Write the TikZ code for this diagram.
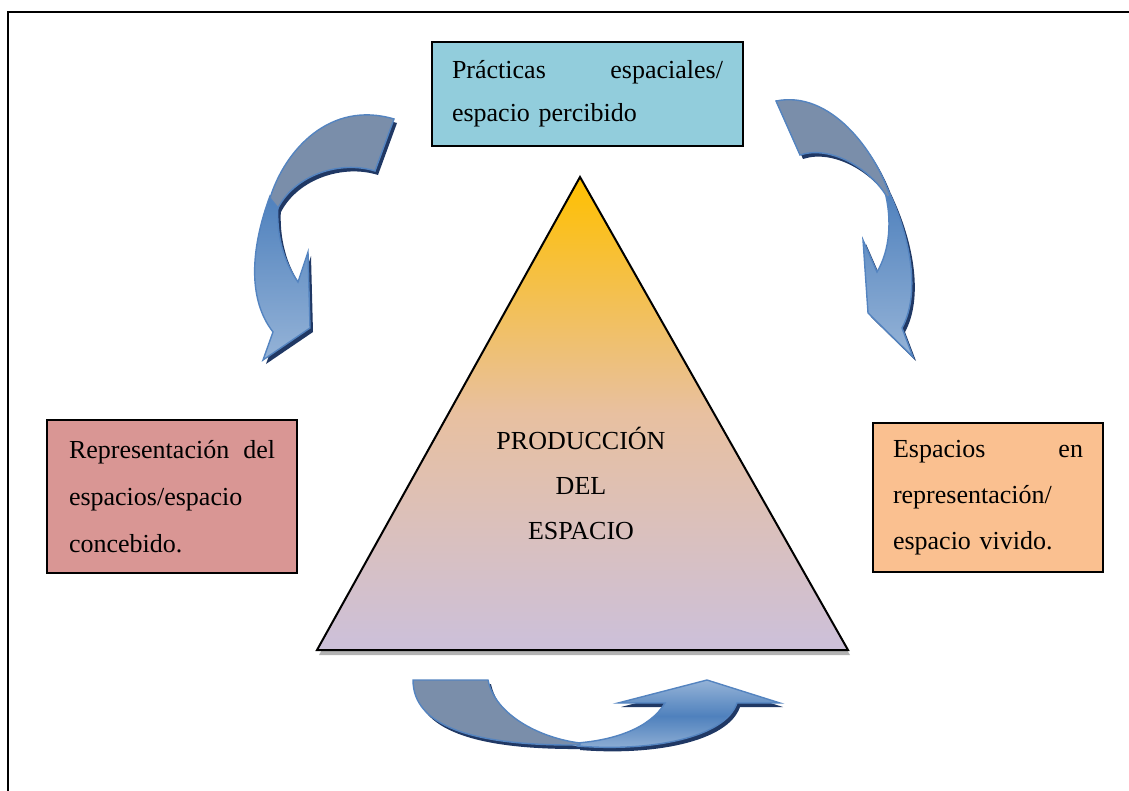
\documentclass[tikz,border=0pt]{standalone}
\usepackage{fontspec}
\setmainfont{Liberation Serif}
\usepackage{tikz}
\definecolor{percibido}{RGB}{146, 205, 220}
\definecolor{concebido}{RGB}{217, 150, 148}
\definecolor{vivido}{RGB}{250, 192, 144}
\definecolor{arrowtop}{RGB}{79, 129, 189}
\definecolor{arrowlow}{RGB}{149, 179, 215}
\definecolor{arrowline}{RGB}{84, 132, 192}
\definecolor{arrowback}{RGB}{122, 142, 170}
\definecolor{arrowdark}{RGB}{32, 56, 100}
\definecolor{tritop}{RGB}{255, 192, 0}
\definecolor{trimid}{RGB}{232, 192, 160}
\definecolor{tribot}{RGB}{204, 192, 218}

% outlines of the three curved arrows
\newcommand{\leftback}{(394,119) .. controls (330,100) and (285,150) .. (270,198) -- (278,208) .. controls (295,175) and (340,160) .. (375,171) -- cycle}
\newcommand{\leftbody}{(270,196) .. controls (250,250) and (248,300) .. (273,332) -- (263,360) -- (310,328) -- (308,252) -- (298,282) .. controls (284,262) and (276,235) .. (278,205) -- cycle}
\newcommand{\rightback}{(776,101) .. controls (830,90) and (875,150) .. (890,196) -- (887,197) .. controls (870,168) and (830,145) .. (800,155) -- cycle}
\newcommand{\rightbody}{(888,190) .. controls (912,240) and (920,295) .. (902,328) -- (913,357) -- (868,313) -- (863,240) -- (877,272) .. controls (890,250) and (892,220) .. (885,192) -- cycle}
\newcommand{\lowback}{(413,680) -- (488,680) .. controls (495,715) and (540,738) .. (580,743) -- (580,745) .. controls (470,746) and (413,725) .. (413,680) -- cycle}
\newcommand{\lowbody}{(577,746) .. controls (650,752) and (725,738) .. (737,703) -- (780,703) -- (707,680) -- (618,703) -- (665,703) .. controls (650,728) and (615,740) .. (577,743) -- cycle}

\begin{document}
\begin{tikzpicture}[x=0.5pt, y=-0.5pt,
  box/.style={draw, line width=0.6pt, align=left, inner ysep=0pt},
  bodyfill/.style={draw=arrowline, line width=0.7pt, top color=arrowtop, bottom color=arrowlow},
  bodymid/.style={draw=arrowline, line width=0.7pt, top color=arrowlow, bottom color=arrowlow, middle color=arrowtop},
  backfill/.style={draw=arrowline, line width=0.7pt, fill=arrowback},
  shadowfill/.style={fill=arrowdark, shift={(3,4)}}]

\useasboundingbox (0,0) rectangle (1129,791);
\draw[line width=0.8pt] (8,791) -- (8,12) -- (1129,12);

% triangle
\coordinate (apex) at (580,177);
\coordinate (baseR) at (848,650);
\coordinate (baseL) at (317,650);
\fill[black!30] ([shift={(2,5)}]apex) -- ([shift={(2,5)}]baseR) -- ([shift={(2,5)}]baseL) -- cycle;
\draw[line width=1pt, top color=tritop, bottom color=tribot, middle color=trimid] (apex) -- (baseR) -- (baseL) -- cycle;
\node[align=center, font=\fontsize{13}{22.5}\selectfont] (produccion) at (581,483) {PRODUCCIÓN\\DEL\\ESPACIO};

% boxes
\node[box, fill=percibido, text width=135.5pt, inner xsep=10pt, minimum height=52pt, font=\fontsize{13}{21.5}\selectfont] (practicas) at (587.5,94) {Prácticas\hfill espaciales/\\espacio percibido};
\node[box, fill=concebido, text width=103pt, inner xsep=11pt, minimum height=76.5pt, font=\fontsize{13}{23.5}\selectfont] (representacion) at (172,496.5) {Representación\hfill del\\espacios/espacio\\concebido.};
\node[box, fill=vivido, text width=95pt, inner xsep=10pt, minimum height=74.5pt, font=\fontsize{13}{23}\selectfont] (espacios) at (988,497.5) {Espacios\hfill en\\representación/\\espacio vivido.};

% arrows
\fill[shadowfill] \leftbody;
\fill[shadowfill] \leftback;
\path[bodyfill] \leftbody;
\path[backfill] \leftback;

\fill[shadowfill] \rightbody;
\fill[shadowfill] \rightback;
\path[bodyfill] \rightbody;
\path[backfill] \rightback;

\fill[shadowfill] \lowbody;
\fill[shadowfill] \lowback;
\path[bodymid] \lowbody;
\path[backfill] \lowback;

\end{tikzpicture}
\end{document}
